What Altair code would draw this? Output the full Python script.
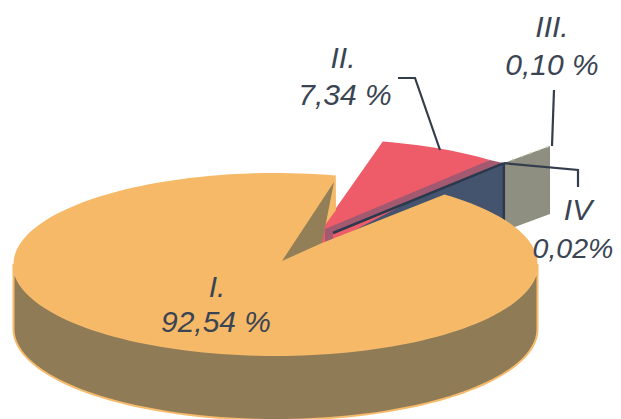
import math
import altair as alt
import pandas as pd

# chart values
parts = ["I.", "II.", "III.", "IV"]
shares = [92.54, 7.34, 0.10, 0.02]
value_texts = ["92,54 %", "7,34 %", "0,10 %", "0,02%"]

# pie geometry (in reference pixel space)
CX, CY, RX, RY, DEPTH = 275.5, 264.0, 262.0, 91.0, 65.0
START = 76.7
APEX = (282, 261)
II_C = (CX + 47, CY - 34)
III_C = (334, 236)


def rim(t, c=(CX, CY), r=1.0, dy=0.0):
    a = math.radians(t)
    return (c[0] + r * RX * math.cos(a), c[1] - r * RY * math.sin(a) + dy)


def arc(t0, t1, c=(CX, CY), dy=0.0):
    n = max(2, int(abs(t1 - t0) / 2) + 1)
    return [rim(t0 + (t1 - t0) * i / (n - 1), c, 1.0, dy) for i in range(n)]


sweep_i = shares[0] * 3.6
sweep_ii = shares[1] * 3.6
i_end = START + sweep_i            # counter-clockwise from the cut
ii_end = START - sweep_ii
TIP = rim(51, III_C, 1.03)
FAR = rim(50.2, III_C, 1.288)

body = arc(180, 360) + arc(360, 180, dy=DEPTH)
face = arc(START, i_end) + [(322, 243), (320, 232), (336, 210)]
wedge = [APEX, (334, 182), (322, 243)]
red_top = [(322, 245), (322, 228)] + arc(START, ii_end, II_C) + [(326, 245)]
red_side = [(325, 229), rim(ii_end, II_C), TIP, (333, 232), (333, 246), (325, 246)]
navy = [(333, 232), TIP, rim(51, III_C, 1.03, DEPTH), (333, 246)]
gray = [TIP, FAR, rim(50.2, III_C, 1.288, 68), rim(51, III_C, 1.03, 68)]

xs = alt.Scale(domain=[8, 613], nice=False, zero=False)
ys = alt.Scale(domain=[419, 8], nice=False, zero=False)


def enc(m):
    return m.encode(
        x=alt.X("x:Q", scale=xs, axis=None),
        y=alt.Y("y:Q", scale=ys, axis=None),
        order="i:Q",
    )


def poly(points, fill, stroke=None, sw=0):
    pts = list(points) + [points[0]]
    df = pd.DataFrame({"x": [p[0] for p in pts], "y": [p[1] for p in pts], "i": range(len(pts))})
    kw = {"stroke": stroke, "strokeWidth": sw} if stroke else {"strokeWidth": 0}
    return enc(alt.Chart(df).mark_line(fill=fill, clip=True, interpolate="linear", **kw))


def path(points, color="#333d4c", sw=2.2, dash=None):
    df = pd.DataFrame({"x": [p[0] for p in points], "y": [p[1] for p in points], "i": range(len(points))})
    kw = {"strokeDash": dash} if dash else {}
    return enc(alt.Chart(df).mark_line(color=color, strokeWidth=sw, clip=True, **kw))


def label(text, x, y, size=30):
    df = pd.DataFrame({"x": [x], "y": [y], "t": [text]})
    return alt.Chart(df).mark_text(
        font="Liberation Sans", fontStyle="italic", fontSize=size, align="center",
        baseline="alphabetic", color="#3a4453",
    ).encode(
        x=alt.X("x:Q", scale=xs, axis=None),
        y=alt.Y("y:Q", scale=ys, axis=None),
        text="t:N",
    )


layers = [
    poly(gray, "#8e8f80"),
    path([TIP, FAR], "#c9c9b8", 1.5, [2, 7]),
    poly(navy, "#44546f"),
    poly(red_top, "#ee5c6a"),
    poly(red_side, "#a35a70"),
    path([(333, 233), TIP], "#2c394c", 2.5),
    path([TIP, rim(51, III_C, 1.03, 60)], "#2c394c", 2.5),
    poly(body, "#8f7c56", "#f7bb6c", 2),
    poly(face, "#f6b968"),
    poly(wedge, "#927f58"),
    path([(398, 78), (415, 78), (440, 150)]),
    path([(554, 90), (552, 146)]),
    path([TIP, (578, 170), (578, 187)]),
    label(parts[0], 217, 297), label(value_texts[0], 216, 332),
    label(parts[1], 343, 68), label(value_texts[1], 345, 105),
    label(parts[2], 552, 37), label(value_texts[2], 552, 75),
    label(parts[3], 578, 220), label(value_texts[3], 573, 258, 28.5),
]

chart = (
    alt.layer(*layers)
    .properties(width=605, height=411, padding=0, background="white",
                autosize=alt.AutoSizeParams(type="none"))
    .configure_view(stroke=None)
)
chart.save("out.html", embed_options={"renderer": "svg", "actions": False})
